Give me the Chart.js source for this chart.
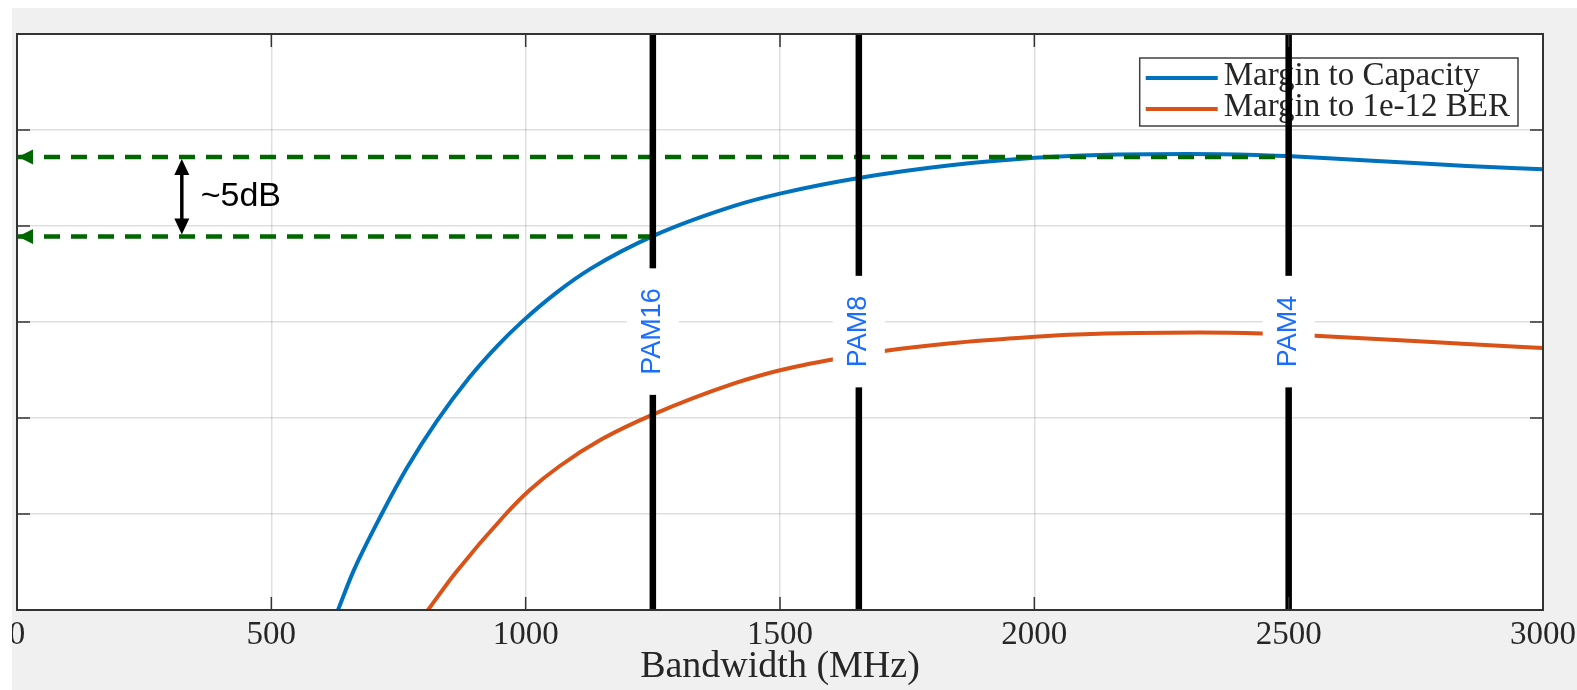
<!DOCTYPE html>
<html>
<head>
<meta charset="utf-8">
<script src="https://cdn.jsdelivr.net/npm/chart.js@4.4.1/dist/chart.umd.min.js"></script>
<style>
  html, body { margin: 0; padding: 0; background: #fff; }
  #wrap { width: 1577px; height: 690px; }
</style>
</head>
<body>
<div id="wrap"><canvas id="marginChart" width="1577" height="690"></canvas></div>
<script>
// Margen frente a ancho de banda (dB)
const capacityMHz    = [631, 661, 717, 767, 826, 890, 943, 993, 1060, 1128, 1252, 1410, 1502, 1655, 1831, 2001, 2129, 2300, 2437, 2496, 2587, 2719, 2850, 3000];
const capacityMargin = [-20, -18.0, -15.0, -12.58, -10.14, -7.87, -6.28, -4.98, -3.48, -2.22, -0.5, 1.05, 1.7, 2.5, 3.15, 3.55, 3.7, 3.75, 3.7, 3.64, 3.52, 3.32, 3.13, 2.95];
const berMHz    = [808, 861, 961, 1008, 1067, 1150, 1252, 1410, 1502, 1603, 1708, 1831, 2001, 2084, 2325, 2447, 2552, 2719, 2850, 3000];
const berMargin = [-20, -18.1, -15, -13.75, -12.5, -11.1, -9.8, -8.2, -7.5, -6.95, -6.5, -6.12, -5.77, -5.65, -5.55, -5.6, -5.72, -5.95, -6.15, -6.35];

const seriesNames = ['Margin to Capacity', 'Margin to 1e-12 BER'];
const seriesColors = ['#0072bd', '#d95319'];

const xTicks = [0, 500, 1000, 1500, 2000, 2500, 3000];
const yTicks = [-20, -15, -10, -5, 0, 5, 10];   // etiquetas recortadas en el original

// Lineas verticales de modulacion
const pamNames = ['PAM16', 'PAM8', 'PAM4'];
const pamBandwidth = [1250, 1655, 2500];
const pamLabelLevel = -5.5;

// Flechas verdes de nivel y la cota de ~5dB
const marginLevels = [3.6, -0.55];
const marginLevelEnds = [2500, 1250];
const gapLabel = '~5dB';
const gapArrowMHz = 324;
const gapTextMHz = 361;

const toPoints = (xs, ys) => xs.map((x, i) => ({ x: x, y: ys[i] }));

const datasets = [];
pamBandwidth.forEach((bw, i) => {
    datasets.push({
        label: pamNames[i],
        data: [{ x: bw, y: yTicks[0] }, { x: bw, y: yTicks[yTicks.length - 1] }],
        borderColor: '#000',
        borderWidth: 6.5,
        pointRadius: 0,
        order: 0
    });
});
marginLevels.forEach((lvl, i) => {
    datasets.push({
        label: 'level' + i,
        data: [{ x: xTicks[0], y: lvl }, { x: marginLevelEnds[i], y: lvl }],
        borderColor: '#006600',
        borderWidth: 4.5,
        borderDash: [16, 11],
        pointRadius: 0,
        order: 1
    });
});
datasets.push({
    label: seriesNames[0],
    data: toPoints(capacityMHz, capacityMargin),
    borderColor: seriesColors[0],
    borderWidth: 4,
    pointRadius: 0,
    cubicInterpolationMode: 'monotone',
    order: 2
});
datasets.push({
    label: seriesNames[1],
    data: toPoints(berMHz, berMargin),
    borderColor: seriesColors[1],
    borderWidth: 4,
    pointRadius: 0,
    cubicInterpolationMode: 'monotone',
    order: 3
});

const SERIF = '"Liberation Serif", "Times New Roman", serif';
const SANS = '"Liberation Sans", Arial, sans-serif';

function triangle(ctx, tipX, tipY, dir, len, wid) {
    // dir: 'left' | 'up' | 'down'
    ctx.beginPath();
    ctx.moveTo(tipX, tipY);
    if (dir === 'left') {
        ctx.lineTo(tipX + len, tipY - wid / 2);
        ctx.lineTo(tipX + len, tipY + wid / 2);
    } else if (dir === 'up') {
        ctx.lineTo(tipX - wid / 2, tipY + len);
        ctx.lineTo(tipX + wid / 2, tipY + len);
    } else {
        ctx.lineTo(tipX - wid / 2, tipY - len);
        ctx.lineTo(tipX + wid / 2, tipY - len);
    }
    ctx.closePath();
    ctx.fill();
}

const figurePlugin = {
    id: 'figure',
    beforeDraw(chart) {
        const { ctx, chartArea: a, width, height } = chart;
        ctx.save();
        ctx.fillStyle = '#f0f0f0';
        ctx.fillRect(0, 0, width, height);
        ctx.fillStyle = '#fff';
        ctx.fillRect(a.left, a.top, a.right - a.left, a.bottom - a.top);
        ctx.restore();
    },
    beforeDatasetsDraw(chart) {
        // leyenda dentro del area, arriba a la derecha
        const { ctx, chartArea: a } = chart;
        ctx.save();
        ctx.font = '33px ' + SERIF;
        const textW = Math.max(...seriesNames.map(n => ctx.measureText(n).width));
        const sampleLen = 72;
        const boxW = 6 + sampleLen + 6 + textW + 8;
        const boxH = 68;
        const right = a.right - 25;
        const left = right - boxW;
        const top = a.top + 24;
        ctx.fillStyle = '#fff';
        ctx.fillRect(left, top, boxW, boxH);
        ctx.strokeStyle = '#404040';
        ctx.lineWidth = 1.5;
        ctx.strokeRect(left, top, boxW, boxH);
        seriesNames.forEach((name, i) => {
            const y = top + 20 + i * 31;
            ctx.strokeStyle = seriesColors[i];
            ctx.lineWidth = 4;
            ctx.beginPath();
            ctx.moveTo(left + 6, y);
            ctx.lineTo(left + 6 + sampleLen, y);
            ctx.stroke();
            ctx.fillStyle = '#262626';
            ctx.textBaseline = 'alphabetic';
            ctx.textAlign = 'left';
            ctx.fillText(name, left + 12 + sampleLen, y + 7);
        });
        ctx.restore();
    },
    afterDatasetsDraw(chart) {
        const { ctx, chartArea: a, scales: { x, y } } = chart;
        ctx.save();

        // etiquetas PAM con fondo blanco
        ctx.font = '27px ' + SANS;
        pamBandwidth.forEach((bw, i) => {
            const px = x.getPixelForValue(bw);
            const py = y.getPixelForValue(pamLabelLevel);
            const tw = ctx.measureText(pamNames[i]).width;
            ctx.fillStyle = '#fff';
            ctx.fillRect(px - 26, py - tw / 2 - 20, 52, tw + 40);
            ctx.save();
            ctx.translate(px, py);
            ctx.rotate(-Math.PI / 2);
            ctx.fillStyle = '#1a6dff';
            ctx.textAlign = 'center';
            ctx.textBaseline = 'middle';
            ctx.fillText(pamNames[i], 0, 0);
            ctx.restore();
        });

        // puntas de flecha verdes en el eje
        ctx.fillStyle = '#006600';
        marginLevels.forEach(lvl => {
            triangle(ctx, x.getPixelForValue(xTicks[0]) + 1, y.getPixelForValue(lvl), 'left', 15, 15);
        });

        // cota doble
        const ax = x.getPixelForValue(gapArrowMHz);
        const yTop = y.getPixelForValue(marginLevels[0]) + 2;
        const yBot = y.getPixelForValue(marginLevels[1]) - 2;
        ctx.strokeStyle = '#000';
        ctx.fillStyle = '#000';
        ctx.lineWidth = 3.5;
        ctx.beginPath();
        ctx.moveTo(ax, yTop + 8);
        ctx.lineTo(ax, yBot - 8);
        ctx.stroke();
        triangle(ctx, ax, yTop, 'up', 16, 15);
        triangle(ctx, ax, yBot, 'down', 16, 15);
        ctx.font = '34px ' + SANS;
        ctx.textAlign = 'left';
        ctx.textBaseline = 'middle';
        ctx.fillText(gapLabel, x.getPixelForValue(gapTextMHz), (yTop + yBot) / 2);

        // marco y marcas interiores
        ctx.strokeStyle = '#333';
        ctx.lineWidth = 2;
        ctx.strokeRect(a.left, a.top, a.right - a.left, a.bottom - a.top);
        ctx.lineWidth = 1.5;
        ctx.beginPath();
        xTicks.forEach(v => {
            const px = x.getPixelForValue(v);
            ctx.moveTo(px, a.bottom); ctx.lineTo(px, a.bottom - 13);
            ctx.moveTo(px, a.top); ctx.lineTo(px, a.top + 13);
        });
        yTicks.forEach(v => {
            const py = y.getPixelForValue(v);
            ctx.moveTo(a.left, py); ctx.lineTo(a.left + 13, py);
            ctx.moveTo(a.right, py); ctx.lineTo(a.right - 13, py);
        });
        ctx.stroke();
        ctx.restore();
    },
    afterDraw(chart) {
        // recorte blanco del original (arriba e izquierda)
        const { ctx, width, height } = chart;
        ctx.save();
        ctx.fillStyle = '#fff';
        ctx.fillRect(0, 0, width, 8);
        ctx.fillRect(0, 0, 12, height);
        ctx.restore();
    }
};

const ctxMargin = document.getElementById('marginChart').getContext('2d');
const marginChart = new Chart(ctxMargin, {
    type: 'line',
    data: { datasets: datasets },
    plugins: [figurePlugin],
    options: {
        responsive: false,
        animation: false,
        events: [],
        layout: { padding: { left: 17, right: 34, top: 34, bottom: 0 } },
        scales: {
            x: {
                type: 'linear',
                min: xTicks[0],
                max: xTicks[xTicks.length - 1],
                afterBuildTicks: s => { s.ticks = xTicks.map(v => ({ value: v })); },
                afterFit: s => { s.height = 80; s.paddingLeft = 0; s.paddingRight = 0; },
                grid: { color: 'rgba(38,38,38,0.15)', lineWidth: 1.5, drawTicks: false },
                border: { display: false },
                ticks: {
                    padding: 6,
                    maxRotation: 0,
                    autoSkip: false,
                    color: '#262626',
                    font: { family: SERIF, size: 33 },
                    callback: v => String(v)
                },
                title: {
                    display: true,
                    text: 'Bandwidth (MHz)',
                    color: '#262626',
                    padding: { top: 0, bottom: 0 },
                    font: { family: SERIF, size: 38 }
                }
            },
            y: {
                min: yTicks[0],
                max: yTicks[yTicks.length - 1],
                afterBuildTicks: s => { s.ticks = yTicks.map(v => ({ value: v })); },
                afterFit: s => { s.width = 0; s.paddingTop = 0; s.paddingBottom = 0; },
                grid: { color: 'rgba(38,38,38,0.15)', lineWidth: 1.5, drawTicks: false },
                border: { display: false },
                ticks: { display: false }
            }
        },
        plugins: {
            legend: { display: false },
            tooltip: { enabled: false }
        }
    }
});
</script>
</body>
</html>
